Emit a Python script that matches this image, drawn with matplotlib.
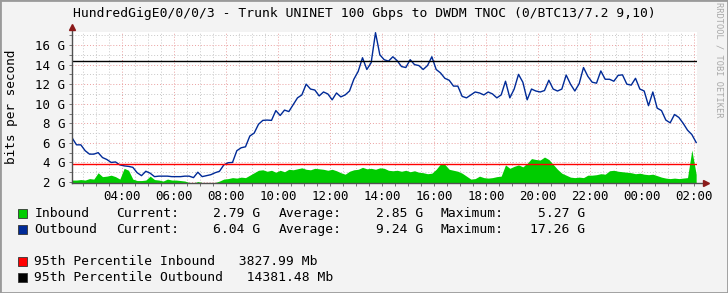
import numpy as np
import matplotlib
matplotlib.use("Agg")
import matplotlib.pyplot as plt
from matplotlib.patches import Rectangle

plt.rcParams['font.family'] = 'DejaVu Sans Mono'

# 10-minute samples, first one at 02:05, values in Gbps
start_hour = 2 + 5 / 60
outbound = [
    6.5, 5.8, 5.8, 5.2, 4.85, 4.85,          # 02
    5.0, 4.5, 4.3, 4.0, 4.05, 3.75,          # 03
    3.65, 3.6, 3.5, 2.95, 2.65, 3.1,         # 04
    2.9, 2.55, 2.6, 2.6, 2.6, 2.55,          # 05
    2.55, 2.55, 2.6, 2.6, 2.45, 3.0,         # 06
    2.55, 2.65, 2.75, 2.95, 3.1, 3.75,       # 07
    3.97, 4.0, 5.2, 5.5, 5.6, 6.7,           # 08
    7.0, 7.9, 8.3, 8.33, 8.3, 9.3,           # 09
    8.8, 9.35, 9.2, 9.9, 10.6, 10.9,         # 10
    12.0, 11.5, 11.4, 10.8, 11.2, 11.0,      # 11
    10.4, 11.1, 10.7, 10.9, 11.3, 12.5,      # 12
    13.3, 14.7, 13.5, 14.2, 17.26, 15.0,     # 13
    14.5, 14.35, 14.8, 14.4, 13.8, 13.7,     # 14
    14.5, 14.0, 13.9, 13.5, 13.9, 14.8,      # 15
    13.5, 13.15, 12.6, 12.4, 11.8, 11.8,     # 16
    10.75, 10.6, 10.9, 11.2, 11.1, 10.9,     # 17
    11.2, 11.0, 10.6, 10.9, 12.3, 10.6,      # 18
    11.5, 13.0, 12.2, 10.4, 11.5, 11.3,      # 19
    11.2, 11.35, 12.4, 11.5, 11.3, 11.5,     # 20
    12.93, 12.0, 11.3, 12.05, 13.7, 12.8,    # 21
    12.2, 12.1, 13.35, 12.5, 12.5, 12.3,     # 22
    12.9, 12.95, 12.0, 11.9, 12.6, 11.5,     # 23
    11.3, 9.8, 11.2, 9.55, 9.3, 8.33,        # 00
    8.05, 8.9, 8.6, 8.0, 7.3, 6.85,          # 01
    6.04,                                    # 02
]
inbound = [
    2.2, 2.2, 2.25, 2.2, 2.35, 2.3,
    2.95, 2.55, 2.6, 2.7, 2.55, 2.3,
    3.4, 3.2, 2.3, 2.15, 2.15, 2.2,
    2.6, 2.25, 2.2, 2.1, 2.3, 2.2,
    2.2, 2.15, 2.1, 1.95, 1.9, 2.05,
    1.95, 1.9, 1.9, 1.95, 2.1, 2.3,
    2.35, 2.45, 2.4, 2.5, 2.45, 2.7,
    2.95, 3.2, 3.25, 3.1, 3.2, 3.0,
    3.2, 3.05, 3.3, 3.25, 3.35, 3.45,
    3.3, 3.25, 3.4, 3.35, 3.3, 3.2,
    3.3, 3.15, 2.95, 2.8, 3.1, 3.25,
    3.3, 3.5, 3.35, 3.4, 3.3, 3.45,
    3.4, 3.2, 3.15, 3.2, 3.1, 3.2,
    3.05, 3.15, 3.0, 2.95, 2.85, 2.9,
    3.3, 3.85, 3.8, 3.3, 3.2, 3.1,
    2.9, 2.6, 2.3, 2.35, 2.6, 2.45,
    2.4, 2.45, 2.55, 2.6, 3.75, 3.4,
    3.6, 3.75, 3.55, 3.9, 4.4, 4.3,
    4.25, 4.55, 4.3, 3.8, 3.3, 2.9,
    2.7, 2.5, 2.45, 2.5, 2.45, 2.7,
    2.7, 2.75, 2.85, 2.8, 3.15, 3.2,
    3.1, 3.05, 3.0, 2.95, 2.85, 2.9,
    2.8, 2.75, 2.8, 2.65, 2.5, 2.4,
    2.35, 2.4, 2.35, 2.4, 2.45, 5.27,
    2.79,
]
p95_in = 3.82799
p95_out = 14.38148

hour_ticks = list(range(4, 27, 2))
hour_labels = ["%02d:00" % (h % 24) for h in hour_ticks]
gb_ticks = list(range(2, 17, 2))
gb_labels = ["%d G" % v for v in gb_ticks]

legend_rows = [
    ("Inbound", "#00CC00", "2.79 G", "2.85 G", "5.27 G"),
    ("Outbound", "#002A97", "6.04 G", "9.24 G", "17.26 G"),
]
pct_rows = [
    ("95th Percentile Inbound   3827.99 Mb", "#FF0000"),
    ("95th Percentile Outbound   14381.48 Mb", "#000000"),
]

W, H = 728, 293
times = start_hour + np.arange(len(outbound)) / 6.0


def fx(x):
    return x / W


def fy(y):
    return 1 - y / H


fig = plt.figure(figsize=(W / 100, H / 100), dpi=100, facecolor="#f3f3f3")
ax = fig.add_axes([fx(72), fy(183), (697 - 72) / W, (183 - 32) / H])
ax.set_facecolor("white")

ax.fill_between(times, 0, inbound, color="#00CC00", lw=0, zorder=2)
ax.plot(times, outbound, color="#002A97", lw=1.0, zorder=3)
ax.axhline(p95_in, color="#FF0000", lw=1.0, zorder=4)
ax.axhline(p95_out, color="#000000", lw=1.0, zorder=4)

ax.set_xlim(2.077, 26.115)
ax.set_ylim(1.9, 17.33)
ax.set_xticks(hour_ticks)
ax.set_xticklabels(hour_labels)
ax.set_xticks(np.arange(2.5, 26.1, 0.5), minor=True)
ax.set_yticks(gb_ticks)
ax.set_yticklabels(gb_labels)
ax.set_yticks(range(3, 18), minor=True)

ax.grid(which="minor", color="#c8c8c8", linestyle=(0, (1, 2)), lw=0.7, zorder=0)
ax.grid(which="major", color="#eaa0a0", linestyle=(0, (1, 2)), lw=0.7, zorder=1)
ax.set_axisbelow(True)
ax.tick_params(which="both", direction="out", length=2, width=0.6,
               color="#606060", labelsize=9, pad=3)
ax.tick_params(axis="x", pad=3)

for s in ax.spines.values():
    s.set_visible(False)
# axis lines with rrdtool style arrows
ax.plot([0, 0], [0, 1.01], transform=ax.transAxes, color="#505050", lw=1, clip_on=False, zorder=5)
ax.plot([0, 1.012], [0, 0], transform=ax.transAxes, color="#505050", lw=1, clip_on=False, zorder=5)
ax.plot([0], [1.03], transform=ax.transAxes, marker="^", ms=4, color="#8b1a1a", clip_on=False, zorder=6)
ax.plot([1.015], [0], transform=ax.transAxes, marker=">", ms=4, color="#8b1a1a", clip_on=False, zorder=6)

fig.text(fx(364), fy(14), "HundredGigE0/0/0/3 - Trunk UNINET 100 Gbps to DWDM TNOC (0/BTC13/7.2 9,10)",
         ha="center", va="center", fontsize=9.4)
fig.text(fx(12), fy(107), "bits per second", rotation=90, ha="center", va="center", fontsize=9.2)
fig.text(fx(719), fy(60), "RRDTOOL / TOBI OETIKER", rotation=270, ha="center", va="center",
         fontsize=6.2, color="#a8a8a8")

# legend
row_y = [213.5, 229.5]
for (name, col, cur, avg, mx), y in zip(legend_rows, row_y):
    fig.patches.append(Rectangle((fx(17.5), fy(y + 4.7)), 9.5 / W, 9.5 / H, transform=fig.transFigure,
                                 facecolor=col, edgecolor="#333333", lw=0.6))
    fig.text(fx(34.5), fy(y), name, va="center", fontsize=9.4)
    fig.text(fx(116), fy(y), "Current:", va="center", fontsize=9.4)
    fig.text(fx(260.5), fy(y), cur, va="center", ha="right", fontsize=9.4)
    fig.text(fx(279), fy(y), "Average:", va="center", fontsize=9.4)
    fig.text(fx(423), fy(y), avg, va="center", ha="right", fontsize=9.4)
    fig.text(fx(441), fy(y), "Maximum:", va="center", fontsize=9.4)
    fig.text(fx(585), fy(y), mx, va="center", ha="right", fontsize=9.4)

pct_y = [261.5, 277.5]
for (label, col), y in zip(pct_rows, pct_y):
    fig.patches.append(Rectangle((fx(17.5), fy(y + 4.7)), 9.5 / W, 9.5 / H, transform=fig.transFigure,
                                 facecolor=col, edgecolor="#333333", lw=0.6))
    fig.text(fx(34.5), fy(y), label, va="center", fontsize=9.4)

# 3d-ish frame round the image
fig.patches.append(Rectangle((0, 0), 1, 1, transform=fig.transFigure, fill=False,
                             edgecolor="#9a9a9a", lw=2))

fig.savefig("out.png", dpi=100, facecolor=fig.get_facecolor())
